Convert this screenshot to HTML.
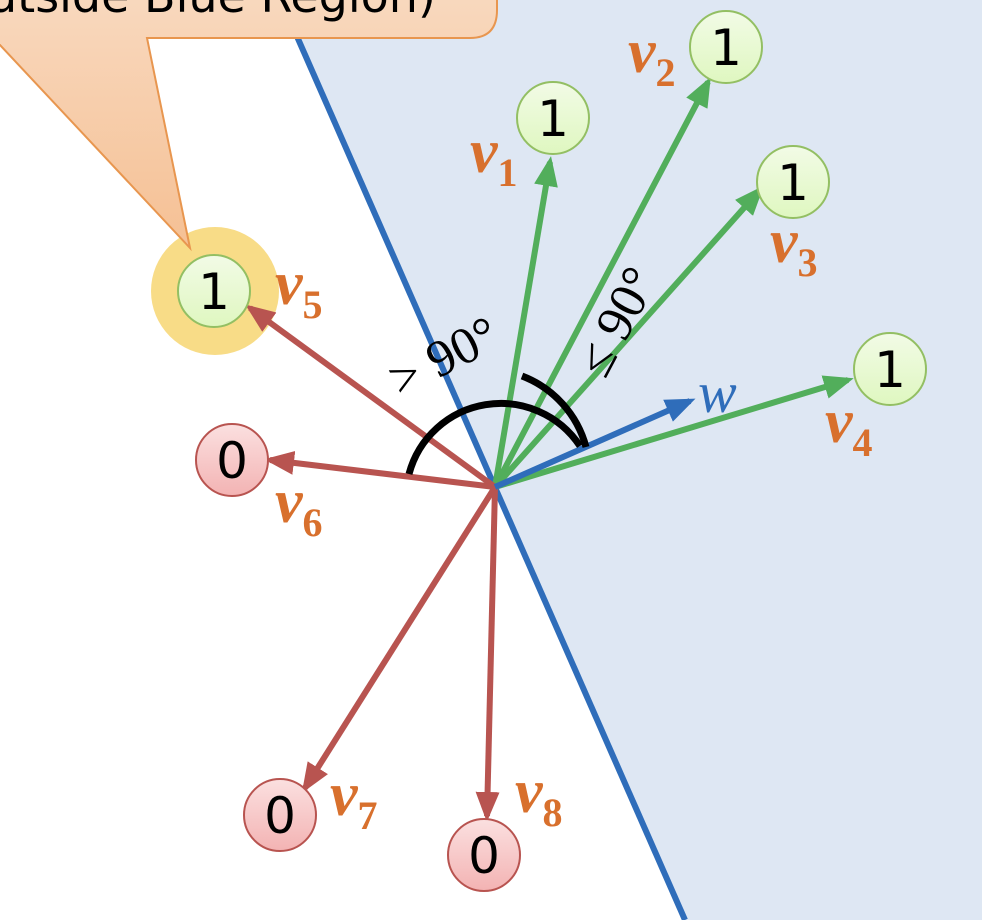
<!DOCTYPE html>
<html><head><meta charset="utf-8"><style>
html,body{margin:0;padding:0;background:#fff;width:982px;height:920px;overflow:hidden}
svg{display:block}
.lbl{font-family:"Liberation Serif",serif;font-weight:bold;font-style:italic;fill:#d8702d}
.num{font-family:"DejaVu Sans","Liberation Sans",sans-serif;font-size:50px;fill:#000;text-anchor:middle}
.ang{font-family:"Liberation Serif",serif;font-size:52px;fill:#000}
</style></head><body>
<svg id="chart" width="982" height="920" viewBox="0 0 982 920">
<defs>
<marker id="mg" markerWidth="5" markerHeight="5" refX="4" refY="2.5" orient="auto" markerUnits="strokeWidth"><path d="M0,0.5 L5,2.5 L0,4.5 Z" fill="#52ae5b"/></marker>
<marker id="mr" markerWidth="5" markerHeight="5" refX="4" refY="2.5" orient="auto" markerUnits="strokeWidth"><path d="M0,0.5 L5,2.5 L0,4.5 Z" fill="#b85450"/></marker>
<marker id="mb" markerWidth="5" markerHeight="5" refX="4" refY="2.5" orient="auto" markerUnits="strokeWidth"><path d="M0,0.5 L5,2.5 L0,4.5 Z" fill="#2f6dba"/></marker>
<linearGradient id="gg" x1="0" y1="0" x2="0" y2="1"><stop offset="0" stop-color="#f2fbe6"/><stop offset="1" stop-color="#dff7c0"/></linearGradient>
<linearGradient id="rg" x1="0" y1="0" x2="0" y2="1"><stop offset="0" stop-color="#fbe0e0"/><stop offset="1" stop-color="#f3b3b3"/></linearGradient>
<linearGradient id="cg" x1="0" y1="0" x2="0" y2="1"><stop offset="0" stop-color="#f9dcc4"/><stop offset="1" stop-color="#f5c094"/></linearGradient>
</defs>
<polygon points="281,0 982,0 982,920 685,920" fill="#dee7f3"/>
<line x1="281" y1="0" x2="685" y2="920" stroke="#2f6dba" stroke-width="6"/>
<circle cx="215" cy="291" r="64" fill="#f8dc87"/>
<g id="vecs"></g>
<path d="M409,474 A95,95 0 0 1 580,446" fill="none" stroke="#000" stroke-width="7"/>
<path d="M522,376 A105,105 0 0 1 586,447" fill="none" stroke="#000" stroke-width="7"/>
<text class="ang" transform="translate(400,398) rotate(-27)">&gt; 90°</text>
<text class="ang" transform="translate(605,380) rotate(-62)">≤ 90°</text>
<text x="698" y="412" font-family="Liberation Serif,serif" font-style="italic" font-size="58" fill="#2f6dba">w</text>
<g>
<path d="M-20,-40 L470,-40 Q497,-40 497,-10 L497,10 Q497,38 470,38 L147,38 L190,248 L0,45 L-20,45 Z" fill="url(#cg)" stroke="#e8964f" stroke-width="2"/>
<text x="-12" y="12" font-family="DejaVu Sans,Liberation Sans,sans-serif" font-size="46" fill="#000">utside Blue Region)</text>
</g>
</svg>
<script>
const ox=495, oy=487;
const names=['v1','v2','v3','v4','v5','v6','v7','v8'];
const tipX=[550,708,760,848,250,270,305,487];
const tipY=[162,82,190,380,308,460,788,816];
const labelsVal=['1','1','1','1','1','0','0','0'];
const cX=[553,726,793,890,214,232,280,484];
const cY=[118,47,182,369,291,460,815,855];
const lX=[470,628,770,825,275,275,330,515];
const lY=[172,72,262,442,304,522,815,812];
const ns='http://www.w3.org/2000/svg';
const g=document.getElementById('vecs');
for(let i=0;i<names.length;i++){
  const green=i<4;
  const ln=document.createElementNS(ns,'line');
  
  
  ln.setAttribute('x1',ox);ln.setAttribute('y1',oy);ln.setAttribute('x2',tipX[i]);ln.setAttribute('y2',tipY[i]);
  ln.setAttribute('stroke',green?'#52ae5b':'#b85450');ln.setAttribute('stroke-width','6');
  ln.setAttribute('marker-end',green?'url(#mg)':'url(#mr)');
  g.appendChild(ln);
  const c=document.createElementNS(ns,'circle');
  
  
  c.setAttribute('cx',cX[i]);c.setAttribute('cy',cY[i]);c.setAttribute('r','36');
  c.setAttribute('fill',labelsVal[i]==='1'?'url(#gg)':'url(#rg)');
  c.setAttribute('stroke',labelsVal[i]==='1'?'#93bf63':'#b85450');c.setAttribute('stroke-width','2');
  g.appendChild(c);
  const t=document.createElementNS(ns,'text');
  
  
  t.setAttribute('class','num');t.setAttribute('x',cX[i]);t.setAttribute('y',cY[i]+18);
  t.textContent=labelsVal[i];
  g.appendChild(t);
  const l=document.createElementNS(ns,'text');
  
  
  l.setAttribute('class','lbl');l.setAttribute('x',lX[i]);l.setAttribute('y',lY[i]);l.setAttribute('font-size','62');
  l.innerHTML='v<tspan font-size="40" font-style="normal" dy="14">'+names[i].slice(1)+'</tspan>';
  g.appendChild(l);
}
const w=document.createElementNS(ns,'line');


w.setAttribute('x1',ox);w.setAttribute('y1',oy);w.setAttribute('x2',690);w.setAttribute('y2',401);
w.setAttribute('stroke','#2f6dba');w.setAttribute('stroke-width','6');w.setAttribute('marker-end','url(#mb)');
g.appendChild(w);
</script>
</body></html>
